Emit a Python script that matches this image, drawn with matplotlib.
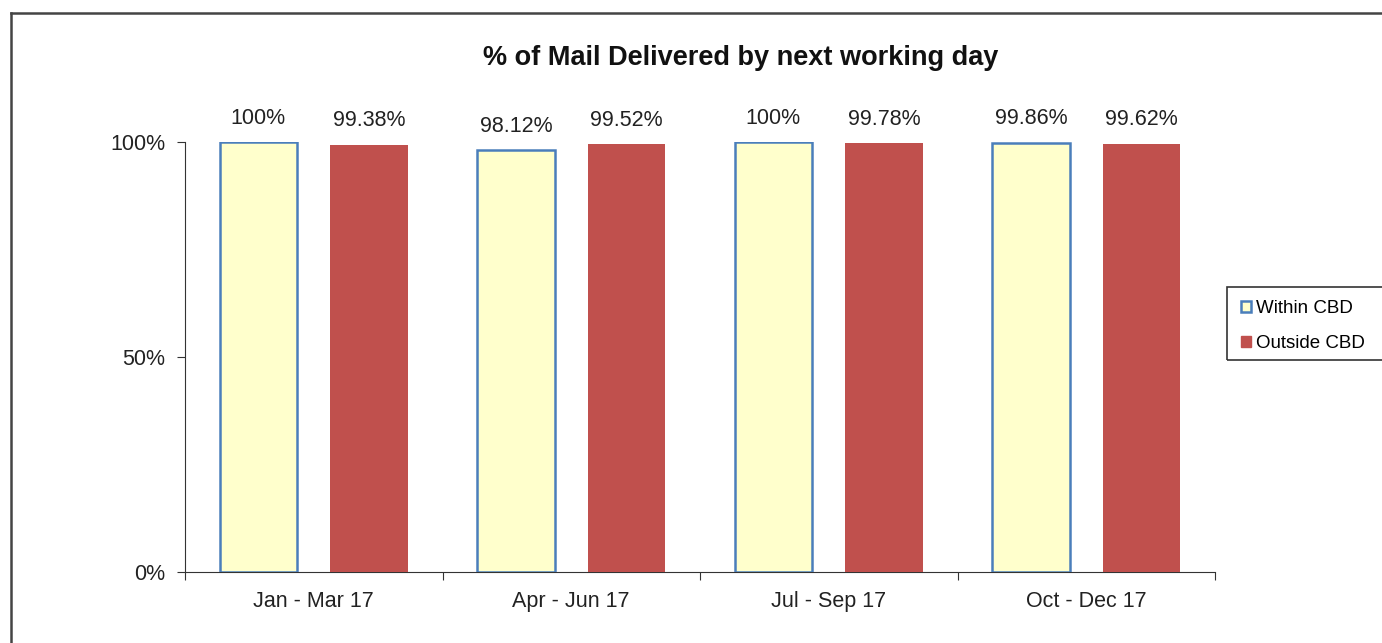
import matplotlib
matplotlib.use("Agg")
import matplotlib.pyplot as plt
from matplotlib.lines import Line2D
from matplotlib.patches import Patch, Rectangle
import numpy as np

plt.rcParams['font.family'] = ['Liberation Sans', 'DejaVu Sans']

categories = ["Jan - Mar 17", "Apr - Jun 17", "Jul - Sep 17", "Oct - Dec 17"]
within_cbd = [100, 98.12, 100, 99.86]
outside_cbd = [99.38, 99.52, 99.78, 99.62]
within_labels = ["100%", "98.12%", "100%", "99.86%"]
outside_labels = ["99.38%", "99.52%", "99.78%", "99.62%"]
yticks = [0, 50, 100]
ytick_labels = ["0%", "50%", "100%"]

W, H = 1382, 643
fig = plt.figure(figsize=(W / 100, H / 100), dpi=100)
ax = fig.add_axes([185 / W, 1 - 572 / H, (1215 - 185) / W, (572 - 142) / H])

x = np.arange(len(categories))
bw = 0.30
off = 0.215
ax.bar(x - off, within_cbd, bw, color="#FFFFCC", edgecolor="#4A7EBB", linewidth=1.8, zorder=3)
ax.bar(x + off, outside_cbd, bw, color="#C0504D", edgecolor="#C0504D", linewidth=0, zorder=3)

fs = 15.5
for xi, v, lab in zip(x - off, within_cbd, within_labels):
    ax.text(xi, v + 3.1, lab, ha="center", va="bottom", fontsize=fs, color="#222222")
for xi, v, lab in zip(x + off, outside_cbd, outside_labels):
    ax.text(xi, v + 3.1, lab, ha="center", va="bottom", fontsize=fs, color="#222222")

ax.set_xlim(-0.5, len(categories) - 0.5)
ax.set_ylim(0, 100)
ax.set_yticks(yticks)
ax.set_yticklabels(ytick_labels, fontsize=fs, color="#222222")
ax.set_xticks(np.arange(len(categories) + 1) - 0.5)
ax.set_xticklabels([])
ax.set_xticks(x, minor=True)
ax.set_xticklabels(categories, minor=True, fontsize=fs, color="#222222")
ax.tick_params(axis="x", which="minor", length=0, pad=14)
ax.tick_params(axis="x", which="major", length=6, direction="out", color="#333333")
ax.tick_params(axis="y", length=6, direction="out", color="#333333", pad=8)
for s in ["top", "right"]:
    ax.spines[s].set_visible(False)
ax.spines["left"].set_color("#333333")
ax.spines["bottom"].set_color("#333333")

fig.text(741 / W, 1 - 58 / H, "% of Mail Delivered by next working day",
         ha="center", va="center", fontsize=19.5, fontweight="bold", color="#111111")

handles = [Patch(facecolor="#FFFFCC", edgecolor="#4A7EBB", linewidth=1.8, label="Within CBD"),
           Patch(facecolor="#C0504D", edgecolor="#C0504D", label="Outside CBD")]
leg = fig.legend(handles=handles, loc="upper left", bbox_to_anchor=(1241 / W, 1 - 300 / H),
                 fontsize=13.5, frameon=False, handlelength=0.55, handleheight=0.55,
                 handletextpad=0.25, labelspacing=0.98, borderpad=0, borderaxespad=0)

# legend frame (extends past the right edge like the reference)
fig.add_artist(Rectangle((1227 / W, 1 - 360 / H), (1400 - 1227) / W, (360 - 287) / H,
                         transform=fig.transFigure, facecolor="none", edgecolor="#333333",
                         linewidth=1.2, clip_on=False))

# outer border (top and left visible)
fig.add_artist(Line2D([11 / W, 1], [1 - 13 / H, 1 - 13 / H], color="#444444", lw=1.8, transform=fig.transFigure))
fig.add_artist(Line2D([11 / W, 11 / W], [0, 1 - 13 / H], color="#444444", lw=1.8, transform=fig.transFigure))

fig.savefig("out.png", dpi=100)
